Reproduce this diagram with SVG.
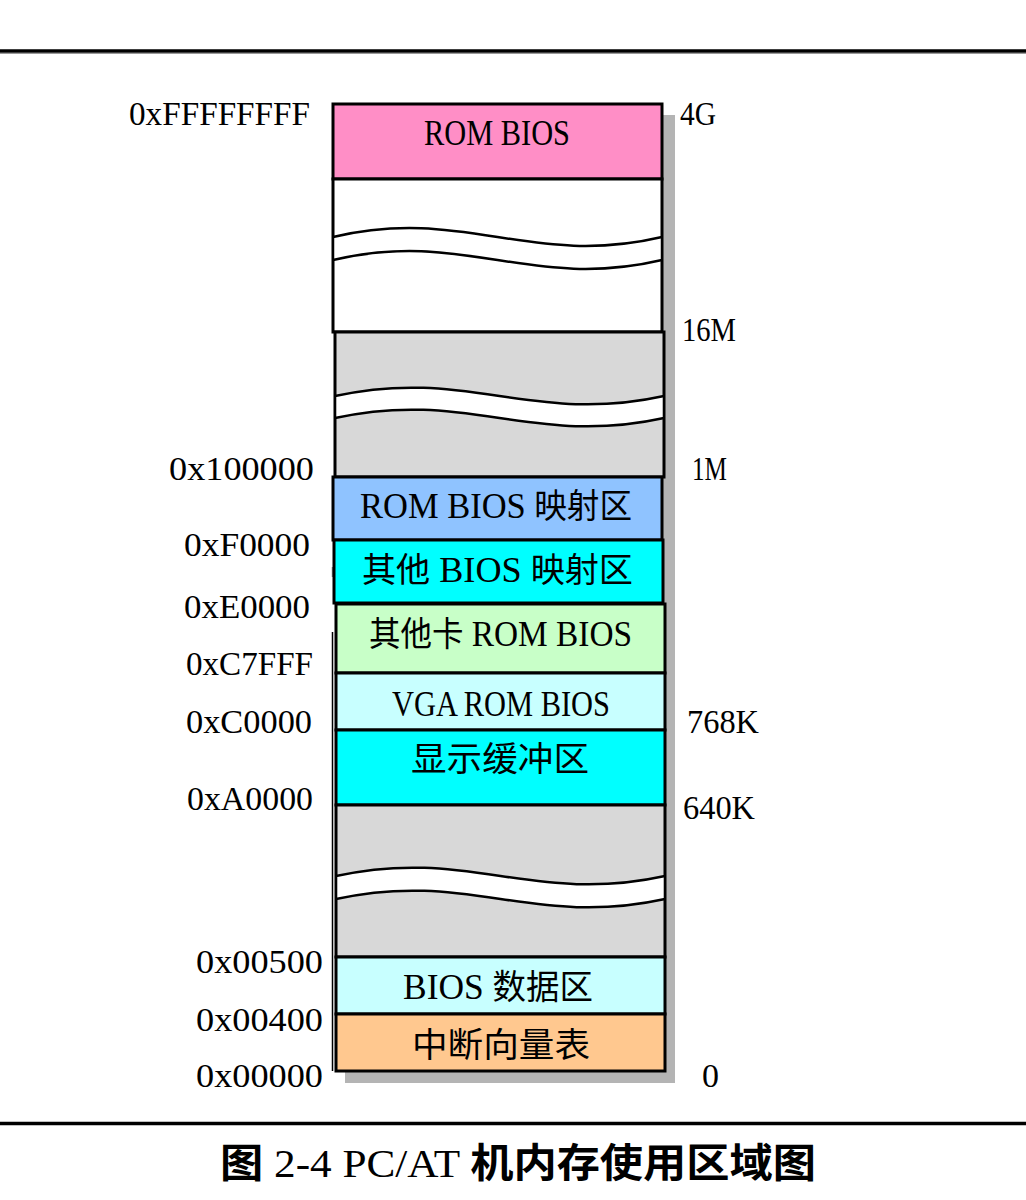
<svg xmlns="http://www.w3.org/2000/svg" width="1026" height="1200" viewBox="0 0 1026 1200">
<style>
.blk{stroke:#000;stroke-width:3}
.band{fill:#fff;stroke:none}
.wave{fill:none;stroke:#000;stroke-width:2.5}
.t{font-family:"Liberation Serif","Noto Sans CJK SC",serif;font-size:34px;fill:#000}
.b{font-size:36px}
.c{font-family:"Noto Sans CJK SC",sans-serif;font-size:34px}
.cap{font-size:40px}
.capc{font-family:"Noto Sans CJK SC",sans-serif;font-size:40px;font-weight:bold}
</style>
<rect width="1026" height="1200" fill="#fff"/>
<g id="rules">
<line x1="0" y1="51" x2="1026" y2="51" stroke="#000" stroke-width="3.5"/>
<line x1="0" y1="53.5" x2="1026" y2="53.5" stroke="#999" stroke-width="1"/>
<line x1="0" y1="1123.5" x2="1026" y2="1123.5" stroke="#000" stroke-width="3.5"/>
</g>
<g id="shadow"><rect x="345" y="115" width="330" height="968" fill="#B4B4B4"/></g>
<g id="frame" stroke="#000">
<line x1="332.5" y1="567" x2="332.5" y2="577" stroke="#888" stroke-width="1.5"/>
<line x1="332.5" y1="632" x2="332.5" y2="1071" stroke-width="1.5"/>
</g>
<g id="rom-bios-top"><rect class="blk" x="333" y="104" width="329" height="75" fill="#FF8EC6"/>
<text class="t b" x="424" y="145" textLength="146" lengthAdjust="spacingAndGlyphs">ROM BIOS</text></g>
<g id="gap-4g-16m"><rect class="blk" x="333" y="179" width="329" height="153" fill="#fff"/>
<path class="band" d="M334.5 237 C464.6 206 530.4 268 660.5 237 L660.5 260 C530.4 291 464.6 229 334.5 260 Z"/>
<path class="wave" d="M333 237 C464.6 206 530.4 268 662 237"/>
<path class="wave" d="M333 260 C464.6 229 530.4 291 662 260"/></g>
<g id="ext-mem"><rect class="blk" x="335" y="332" width="329" height="145" fill="#D8D8D8"/>
<path class="band" d="M336.5 396 C466.6 367 532.4 425 662.5 396 L662.5 418 C532.4 447 466.6 389 336.5 418 Z"/>
<path class="wave" d="M335 396 C466.6 367 532.4 425 664 396"/>
<path class="wave" d="M335 418 C466.6 389 532.4 447 664 418"/></g>
<g id="rom-bios-map"><rect class="blk" x="333" y="477" width="329" height="63" fill="#8FC3FF"/>
<text class="t b" x="360" y="518" textLength="272" lengthAdjust="spacingAndGlyphs">ROM BIOS <tspan class="c">映射区</tspan></text></g>
<g id="other-bios-map"><rect class="blk" x="334" y="540" width="329" height="63" fill="#00FFFF"/>
<text class="t b" x="362" y="582" textLength="271" lengthAdjust="spacingAndGlyphs"><tspan class="c">其他</tspan> BIOS <tspan class="c">映射区</tspan></text></g>
<g id="other-card-rom"><rect class="blk" x="336" y="604" width="329" height="69" fill="#C8FFC8"/>
<text class="t b" x="369" y="646" textLength="263" lengthAdjust="spacingAndGlyphs"><tspan class="c">其他卡</tspan> ROM BIOS</text></g>
<g id="vga-rom"><rect class="blk" x="336" y="673" width="329" height="57" fill="#C8FFFF"/>
<text class="t b" x="392" y="716" textLength="218" lengthAdjust="spacingAndGlyphs">VGA ROM BIOS</text></g>
<g id="video-buffer"><rect class="blk" x="336" y="730" width="329" height="75" fill="#00FFFF"/>
<text class="t c" x="411" y="771" textLength="178" lengthAdjust="spacingAndGlyphs">显示缓冲区</text></g>
<g id="base-mem"><rect class="blk" x="336" y="805" width="329" height="152" fill="#D8D8D8"/>
<path class="band" d="M337.5 876 C467.6 847 533.4 905 663.5 876 L663.5 899 C533.4 928 467.6 870 337.5 899 Z"/>
<path class="wave" d="M336 876 C467.6 847 533.4 905 665 876"/>
<path class="wave" d="M336 899 C467.6 870 533.4 928 665 899"/></g>
<g id="bios-data"><rect class="blk" x="336" y="957" width="329" height="57" fill="#C8FFFF"/>
<text class="t b" x="403" y="999" textLength="190" lengthAdjust="spacingAndGlyphs">BIOS <tspan class="c">数据区</tspan></text></g>
<g id="ivt"><rect class="blk" x="336" y="1014" width="329" height="57" fill="#FFC88F"/>
<text class="t c" x="412" y="1057" textLength="178" lengthAdjust="spacingAndGlyphs">中断向量表</text></g>
<g id="connectors"></g>
<g id="addr-labels">
<text class="t" x="129" y="125" textLength="181" lengthAdjust="spacingAndGlyphs">0xFFFFFFFF</text>
<text class="t" x="169" y="480" textLength="145" lengthAdjust="spacingAndGlyphs">0x100000</text>
<text class="t" x="184" y="556" textLength="126" lengthAdjust="spacingAndGlyphs">0xF0000</text>
<text class="t" x="184" y="618" textLength="126" lengthAdjust="spacingAndGlyphs">0xE0000</text>
<text class="t" x="186" y="675" textLength="127" lengthAdjust="spacingAndGlyphs">0xC7FFF</text>
<text class="t" x="186" y="733" textLength="126" lengthAdjust="spacingAndGlyphs">0xC0000</text>
<text class="t" x="187" y="810" textLength="126" lengthAdjust="spacingAndGlyphs">0xA0000</text>
<text class="t" x="196" y="973" textLength="127" lengthAdjust="spacingAndGlyphs">0x00500</text>
<text class="t" x="196" y="1031" textLength="127" lengthAdjust="spacingAndGlyphs">0x00400</text>
<text class="t" x="196" y="1087" textLength="127" lengthAdjust="spacingAndGlyphs">0x00000</text>
</g>
<g id="size-labels">
<text class="t" x="680" y="125" textLength="36" lengthAdjust="spacingAndGlyphs">4G</text>
<text class="t" x="682" y="341" textLength="54" lengthAdjust="spacingAndGlyphs">16M</text>
<text class="t" x="692" y="480" textLength="35" lengthAdjust="spacingAndGlyphs">1M</text>
<text class="t" x="687" y="733" textLength="72" lengthAdjust="spacingAndGlyphs">768K</text>
<text class="t" x="683" y="819" textLength="72" lengthAdjust="spacingAndGlyphs">640K</text>
<text class="t" x="702" y="1087">0</text>
</g>
<g id="caption">
<text class="t cap" x="220" y="1177" textLength="596" lengthAdjust="spacingAndGlyphs"><tspan class="capc">图</tspan> 2-4 PC/AT <tspan class="capc">机内存使用区域图</tspan></text>
</g>
</svg>
